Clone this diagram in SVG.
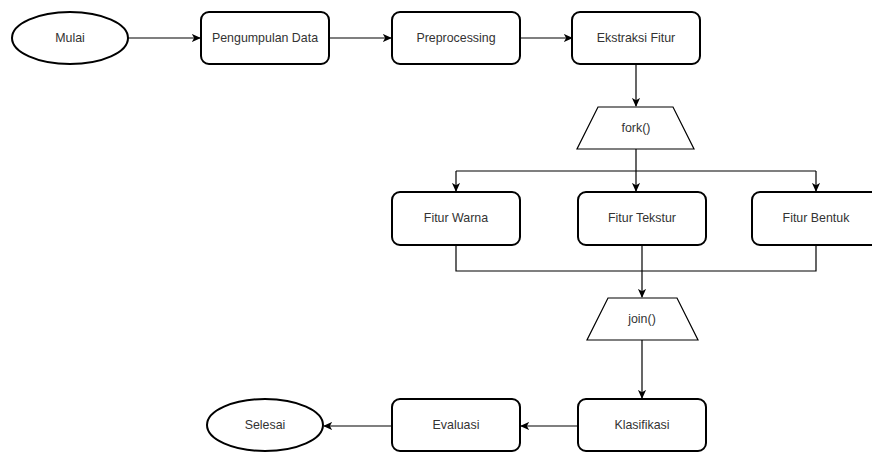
<svg xmlns="http://www.w3.org/2000/svg" width="872" height="452" viewBox="0 0 872 452">
<defs>
<marker id="arr" viewBox="0 0 10 10" refX="9" refY="5" markerWidth="9" markerHeight="9" markerUnits="userSpaceOnUse" orient="auto">
<path d="M0,0.5 L10,5 L0,9.5 L2.5,5 Z" fill="#000"/>
</marker>
<style>
.node{fill:#fff;stroke:#000;stroke-width:2}
.trap{fill:#fff;stroke:#000;stroke-width:1.2}
.lbl{font-family:"Liberation Sans",Arial,sans-serif;font-size:12.4px;fill:#333;text-anchor:middle;dominant-baseline:central}
.con{fill:none;stroke:#000;stroke-width:1.2}
.arw{marker-end:url(#arr)}
</style>
</defs>
<rect width="872" height="452" fill="#fff"/>
<g id="connectors">
<path class="con arw" d="M128,38 H200"/>
<path class="con arw" d="M329,38 H391"/>
<path class="con arw" d="M520,38 H572"/>
<path class="con arw" d="M636,64 V106"/>
<path class="con" d="M636,149 V171 M456,171 H816"/>
<path class="con arw" d="M456,171 V191"/>
<path class="con arw" d="M636,171 V191"/>
<path class="con arw" d="M816,171 V191"/>
<path class="con" d="M456,245 V271 H816 V245"/>
<path class="con arw" d="M642,245 V297"/>
<path class="con arw" d="M642,340 V398"/>
<path class="con arw" d="M578,426 H521"/>
<path class="con arw" d="M392,426 H324"/>
</g>
<g id="mulai"><ellipse class="node" cx="70" cy="38" rx="58" ry="26"/><text class="lbl" x="70" y="38">Mulai</text></g>
<g id="pengumpulan"><rect class="node" x="201" y="12" width="128" height="52" rx="8"/><text class="lbl" x="265" y="38">Pengumpulan Data</text></g>
<g id="preprocessing"><rect class="node" x="392" y="12" width="128" height="52" rx="8"/><text class="lbl" x="456" y="38">Preprocessing</text></g>
<g id="ekstraksi"><rect class="node" x="572" y="12" width="128" height="52" rx="8"/><text class="lbl" x="636" y="38">Ekstraksi Fitur</text></g>
<g id="fork"><polygon class="trap" points="598,107 673,107 694,149 577,149"/><text class="lbl" x="636" y="128">fork()</text></g>
<g id="warna"><rect class="node" x="392" y="192" width="128" height="53" rx="8"/><text class="lbl" x="456" y="218">Fitur Warna</text></g>
<g id="tekstur"><rect class="node" x="578" y="192" width="128" height="53" rx="8"/><text class="lbl" x="642" y="218">Fitur Tekstur</text></g>
<g id="bentuk"><rect class="node" x="752" y="192" width="128" height="53" rx="8"/><text class="lbl" x="816" y="218">Fitur Bentuk</text></g>
<g id="join"><polygon class="trap" points="608,298 677,298 698,340 587,340"/><text class="lbl" x="642" y="319">join()</text></g>
<g id="klasifikasi"><rect class="node" x="578" y="399" width="128" height="52" rx="8"/><text class="lbl" x="642" y="425">Klasifikasi</text></g>
<g id="evaluasi"><rect class="node" x="392" y="399" width="128" height="52" rx="8"/><text class="lbl" x="456" y="425">Evaluasi</text></g>
<g id="selesai"><ellipse class="node" cx="265" cy="425" rx="58" ry="26"/><text class="lbl" x="265" y="425">Selesai</text></g>
</svg>
